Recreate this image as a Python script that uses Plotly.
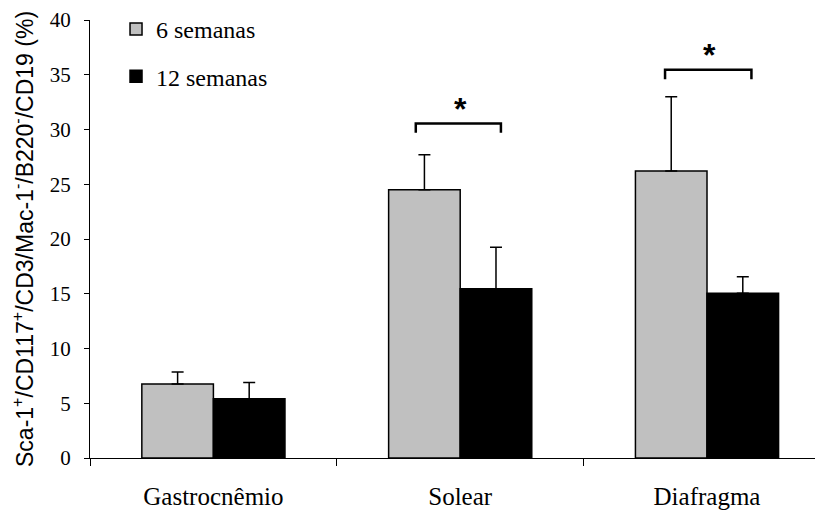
import plotly.graph_objects as go

categories = ["Gastrocnêmio", "Solear", "Diafragma"]
series_names = ["6 semanas", "12 semanas"]
six_weeks = [6.75, 24.5, 26.2]
six_weeks_err = [1.1, 3.2, 6.8]
twelve_weeks = [5.4, 15.45, 15.05]
twelve_weeks_err = [1.5, 3.8, 1.5]

# significance brackets: (x start, x end, top y, leg bottom y), star label
brackets_x0 = [0.82, 1.83]
brackets_x1 = [1.165, 2.18]
brackets_ytop = [30.55, 35.45]
brackets_ybot = [29.7, 34.6]
stars_x = [1.0, 2.01]
stars_y = [31.9, 36.8]

y_ticks = [0, 5, 10, 15, 20, 25, 30, 35, 40]
y_title = "Sca-1<sup>+</sup>/CD117<sup>+</sup>/CD3/Mac-1<sup>-</sup>/B220<sup>-</sup>/CD19 (%)"

SERIF = "Liberation Serif, Times New Roman, Times, serif"
SANS = "Liberation Sans, Arial, Helvetica, sans-serif"

fig = go.Figure()
fig.add_trace(go.Bar(
    x=categories, y=six_weeks, name=series_names[0],
    marker=dict(color="#c0c0c0", line=dict(color="black", width=1.5)),
    error_y=dict(type="data", array=six_weeks_err, arrayminus=[0, 0, 0],
                 symmetric=False, color="black", thickness=1.5, width=6),
    legendgroup="a",
))
fig.add_trace(go.Bar(
    x=categories, y=twelve_weeks, name=series_names[1],
    marker=dict(color="black", line=dict(color="black", width=1.5)),
    error_y=dict(type="data", array=twelve_weeks_err, arrayminus=[0, 0, 0],
                 symmetric=False, color="black", thickness=1.5, width=6),
    legendgroup="b",
))

for x0, x1, yt, yb in zip(brackets_x0, brackets_x1, brackets_ytop, brackets_ybot):
    fig.add_shape(type="path", xref="x", yref="y",
                  path=f"M {x0} {yb} L {x0} {yt} L {x1} {yt} L {x1} {yb}",
                  line=dict(color="black", width=2.5))
for sx, sy in zip(stars_x, stars_y):
    fig.add_annotation(x=sx, y=sy, xref="x", yref="y", text="<b>*</b>",
                       showarrow=False,
                       font=dict(family=SANS, size=32, color="black"))

# y-axis title as rotated text left of the tick labels
fig.add_annotation(x=-0.0914, y=0.5, xref="paper", yref="paper",
                   text=y_title, textangle=-90, showarrow=False,
                   xanchor="center", yanchor="middle",
                   font=dict(family=SANS, size=23, color="black"))

fig.update_layout(
    width=815, height=502,
    margin=dict(l=82, r=0, t=12, b=52, autoexpand=False),
    plot_bgcolor="white", paper_bgcolor="white",
    barmode="group", bargap=0.42, bargroupgap=0,
    showlegend=True,
    legend=dict(x=0.0355, y=1.03, xanchor="left", yanchor="top",
                traceorder="grouped", tracegroupgap=13,
                font=dict(family=SERIF, size=24, color="black"),
                bgcolor="rgba(0,0,0,0)"),
    font=dict(family=SERIF, color="black"),
)
fig.update_xaxes(
    range=[-0.5, 2.47], showline=True, linecolor="black", linewidth=1.2,
    ticks="outside", tickson="boundaries", ticklen=7, tickcolor="black",
    tickwidth=1.2, showgrid=False, automargin=False,
    tickfont=dict(family=SERIF, size=25, color="black"),
    ticklabelstandoff=16,
)
fig.update_yaxes(
    range=[0, 40], tickvals=y_ticks, showline=True, linecolor="black",
    linewidth=1.2, ticks="outside", ticklen=5, tickcolor="black", tickwidth=1.2,
    showgrid=False, zeroline=False, automargin=False,
    ticklabeloverflow="allow", ticklabelstandoff=9,
    tickfont=dict(family=SERIF, size=21, color="black"),
)

fig.write_html("out.html")
